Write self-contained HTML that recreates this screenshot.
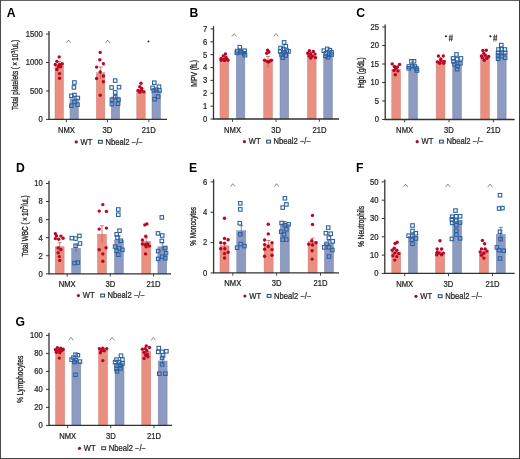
<!DOCTYPE html>
<html><head><meta charset="utf-8"><style>
html,body{margin:0;padding:0;background:#fff;}
body{width:520px;height:459px;overflow:hidden;}
svg{display:block;will-change:transform;}
.wrap{width:520px;height:459px;}
text{font-family:"Liberation Sans",sans-serif;fill:#222;}
.t{font-size:8.3px;stroke:#222;stroke-width:0.22px;}
.yl{font-size:8.5px;stroke:#222;stroke-width:0.3px;}
.L{font-size:12.2px;font-weight:bold;fill:#000;}
.hs{font-size:8.4px;fill:#222;font-weight:bold;font-style:italic;}
</style></head><body>
<div class="wrap"><svg width="520" height="459" viewBox="0 0 520 459">
<rect x="0" y="0" width="520" height="459" fill="#fff"/>
<rect x='55' y='64.5' width='8.4' height='54.9' fill='#e88f80' stroke='#cf7a70' stroke-width='0.5'/>
<rect x='70' y='98.8' width='8.4' height='20.6' fill='#8d9bc2' stroke='#7683ab' stroke-width='0.5'/>
<rect x='96.4' y='72.8' width='8.4' height='46.6' fill='#e88f80' stroke='#cf7a70' stroke-width='0.5'/>
<rect x='111.25' y='97' width='8.4' height='22.4' fill='#8d9bc2' stroke='#7683ab' stroke-width='0.5'/>
<rect x='136.8' y='90.5' width='8.4' height='28.9' fill='#e88f80' stroke='#cf7a70' stroke-width='0.5'/>
<rect x='152' y='90.5' width='8.4' height='28.9' fill='#8d9bc2' stroke='#7683ab' stroke-width='0.5'/>
<path d='M59.2 67.5V61.5M57.2 61.5H61.2' stroke='#c0504a' stroke-width='0.7' fill='none'/>
<path d='M74.2 101.3V96.3M72.2 96.3H76.2' stroke='#3b5a8c' stroke-width='0.7' fill='none'/>
<path d='M100.6 78.6V67M98.6 67H102.6' stroke='#c0504a' stroke-width='0.7' fill='none'/>
<path d='M115.45 99.5V94.5M113.45 94.5H117.45' stroke='#3b5a8c' stroke-width='0.7' fill='none'/>
<path d='M141 91.7V89.3M139 89.3H143' stroke='#c0504a' stroke-width='0.7' fill='none'/>
<path d='M156.2 92V89M154.2 89H158.2' stroke='#3b5a8c' stroke-width='0.7' fill='none'/>
<circle cx='59.2' cy='56.9' r='1.7' fill='#bb0523'/>
<circle cx='56.9' cy='61.4' r='1.7' fill='#bb0523'/>
<circle cx='55.3' cy='64.5' r='1.7' fill='#bb0523'/>
<circle cx='62.2' cy='63.7' r='1.7' fill='#bb0523'/>
<circle cx='59.5' cy='64.5' r='1.7' fill='#bb0523'/>
<circle cx='58.4' cy='66.8' r='1.7' fill='#bb0523'/>
<circle cx='60.7' cy='66.8' r='1.7' fill='#bb0523'/>
<circle cx='56.9' cy='69.5' r='1.7' fill='#bb0523'/>
<circle cx='59.5' cy='73.6' r='1.7' fill='#bb0523'/>
<circle cx='59.5' cy='78.2' r='1.7' fill='#bb0523'/>
<rect x='72.65' y='80.75' width='3.5' height='3.5' fill='none' stroke='#2c62a0' stroke-width='1.1'/>
<rect x='72.15' y='85.65' width='3.5' height='3.5' fill='none' stroke='#2c62a0' stroke-width='1.1'/>
<rect x='69.65' y='94.05' width='3.5' height='3.5' fill='none' stroke='#2c62a0' stroke-width='1.1'/>
<rect x='72.65' y='93.25' width='3.5' height='3.5' fill='none' stroke='#2c62a0' stroke-width='1.1'/>
<rect x='76.05' y='96.25' width='3.5' height='3.5' fill='none' stroke='#2c62a0' stroke-width='1.1'/>
<rect x='72.65' y='100.15' width='3.5' height='3.5' fill='none' stroke='#2c62a0' stroke-width='1.1'/>
<rect x='69.65' y='103.95' width='3.5' height='3.5' fill='none' stroke='#2c62a0' stroke-width='1.1'/>
<rect x='75.75' y='102.85' width='3.5' height='3.5' fill='none' stroke='#2c62a0' stroke-width='1.1'/>
<circle cx='100.2' cy='52.4' r='1.7' fill='#bb0523'/>
<circle cx='99.8' cy='59.7' r='1.7' fill='#bb0523'/>
<circle cx='103.4' cy='63.8' r='1.7' fill='#bb0523'/>
<circle cx='96.6' cy='67.1' r='1.7' fill='#bb0523'/>
<circle cx='100.2' cy='72' r='1.7' fill='#bb0523'/>
<circle cx='103.4' cy='76' r='1.7' fill='#bb0523'/>
<circle cx='96.6' cy='78.5' r='1.7' fill='#bb0523'/>
<circle cx='103.4' cy='81.8' r='1.7' fill='#bb0523'/>
<circle cx='100.2' cy='95.3' r='1.7' fill='#bb0523'/>
<rect x='113.45' y='78.85' width='3.5' height='3.5' fill='none' stroke='#2c62a0' stroke-width='1.1'/>
<rect x='109.85' y='85.75' width='3.5' height='3.5' fill='none' stroke='#2c62a0' stroke-width='1.1'/>
<rect x='117.25' y='85.45' width='3.5' height='3.5' fill='none' stroke='#2c62a0' stroke-width='1.1'/>
<rect x='113.45' y='90.65' width='3.5' height='3.5' fill='none' stroke='#2c62a0' stroke-width='1.1'/>
<rect x='110.15' y='97.95' width='3.5' height='3.5' fill='none' stroke='#2c62a0' stroke-width='1.1'/>
<rect x='116.75' y='97.95' width='3.5' height='3.5' fill='none' stroke='#2c62a0' stroke-width='1.1'/>
<rect x='110.15' y='102.35' width='3.5' height='3.5' fill='none' stroke='#2c62a0' stroke-width='1.1'/>
<rect x='116.35' y='102.05' width='3.5' height='3.5' fill='none' stroke='#2c62a0' stroke-width='1.1'/>
<rect x='113.45' y='95.25' width='3.5' height='3.5' fill='none' stroke='#2c62a0' stroke-width='1.1'/>
<circle cx='141' cy='83.2' r='1.7' fill='#bb0523'/>
<circle cx='139.8' cy='86.7' r='1.7' fill='#bb0523'/>
<circle cx='138.1' cy='90.5' r='1.7' fill='#bb0523'/>
<circle cx='141.6' cy='90.5' r='1.7' fill='#bb0523'/>
<circle cx='143.8' cy='91.9' r='1.7' fill='#bb0523'/>
<circle cx='139.8' cy='92.3' r='1.7' fill='#bb0523'/>
<circle cx='141.8' cy='88.5' r='1.7' fill='#bb0523'/>
<rect x='152.55' y='80.95' width='3.5' height='3.5' fill='none' stroke='#2c62a0' stroke-width='1.1'/>
<rect x='157.25' y='84.95' width='3.5' height='3.5' fill='none' stroke='#2c62a0' stroke-width='1.1'/>
<rect x='150.85' y='86.15' width='3.5' height='3.5' fill='none' stroke='#2c62a0' stroke-width='1.1'/>
<rect x='154.65' y='87.95' width='3.5' height='3.5' fill='none' stroke='#2c62a0' stroke-width='1.1'/>
<rect x='157.75' y='88.75' width='3.5' height='3.5' fill='none' stroke='#2c62a0' stroke-width='1.1'/>
<rect x='152.05' y='88.75' width='3.5' height='3.5' fill='none' stroke='#2c62a0' stroke-width='1.1'/>
<rect x='156.35' y='94.85' width='3.5' height='3.5' fill='none' stroke='#2c62a0' stroke-width='1.1'/>
<rect x='152.85' y='97.45' width='3.5' height='3.5' fill='none' stroke='#2c62a0' stroke-width='1.1'/>
<path d='M49 31V119.4H167' stroke='#333' stroke-width='1.3' fill='none'/>
<path d='M46 119.4H49' stroke='#333' stroke-width='1'/>
<text transform='translate(42.7 122.3) scale(0.92 1)' text-anchor='end' class='t'>0</text>
<path d='M46 90.95H49' stroke='#333' stroke-width='1'/>
<text transform='translate(42.7 93.85) scale(0.92 1)' text-anchor='end' class='t'>500</text>
<path d='M46 62.5H49' stroke='#333' stroke-width='1'/>
<text transform='translate(42.7 65.4) scale(0.92 1)' text-anchor='end' class='t'>1000</text>
<path d='M46 34.05H49' stroke='#333' stroke-width='1'/>
<text transform='translate(42.7 36.95) scale(0.92 1)' text-anchor='end' class='t'>1500</text>
<path d='M66.4 119.4V122.2' stroke='#333' stroke-width='0.9'/>
<text transform='translate(66.4 132.7) scale(0.92 1)' text-anchor='middle' class='t'>NMX</text>
<path d='M107.5 119.4V122.2' stroke='#333' stroke-width='0.9'/>
<text transform='translate(107.5 132.7) scale(0.92 1)' text-anchor='middle' class='t'>3D</text>
<path d='M148.8 119.4V122.2' stroke='#333' stroke-width='0.9'/>
<text transform='translate(148.8 132.7) scale(0.92 1)' text-anchor='middle' class='t'>21D</text>
<text transform='translate(18.4 75) rotate(-90) scale(0.7544 1)' text-anchor='middle' class='yl'>Total platelets ( × 10<tspan dy='-3.3' font-size='6.2'>3</tspan><tspan dy='3.3'>/uL)</tspan></text>
<path d='M66.2 43.1L68.5 40.1L70.8 43.1' stroke='#444' stroke-width='0.6' fill='none'/>
<path d='M105.3 43.1L107.6 40.1L109.9 43.1' stroke='#444' stroke-width='0.6' fill='none'/>
<circle cx='148.5' cy='41.4' r='0.9' fill='#1a1a1a'/>
<text x='6.8' y='16.5' class='L'>A</text>
<circle cx='76.2' cy='141.9' r='1.6' fill='#8e1530'/>
<text transform='translate(80.5 144.6) scale(0.92 1)' class='t'>WT</text>
<rect x='98.5' y='140.4' width='3.8' height='2.8' fill='none' stroke='#36496a' stroke-width='1.1'/>
<text transform='translate(105.4 144.6) scale(0.92 1)' class='t'>Nbeal2 −/−</text>
<rect x='220' y='61' width='8.6' height='58' fill='#e88f80' stroke='#cf7a70' stroke-width='0.5'/>
<rect x='236.25' y='52' width='8.6' height='67' fill='#8d9bc2' stroke='#7683ab' stroke-width='0.5'/>
<rect x='263.75' y='62' width='8.6' height='57' fill='#e88f80' stroke='#cf7a70' stroke-width='0.5'/>
<rect x='280' y='52.5' width='8.6' height='66.5' fill='#8d9bc2' stroke='#7683ab' stroke-width='0.5'/>
<rect x='307.5' y='56' width='8.6' height='63' fill='#e88f80' stroke='#cf7a70' stroke-width='0.5'/>
<rect x='323.75' y='55' width='8.6' height='64' fill='#8d9bc2' stroke='#7683ab' stroke-width='0.5'/>
<path d='M224.3 62V60M222.3 60H226.3' stroke='#c0504a' stroke-width='0.7' fill='none'/>
<path d='M240.55 53V51M238.55 51H242.55' stroke='#3b5a8c' stroke-width='0.7' fill='none'/>
<path d='M268.05 67.5V56.5M266.05 56.5H270.05' stroke='#c0504a' stroke-width='0.7' fill='none'/>
<path d='M284.3 53.7V51.3M282.3 51.3H286.3' stroke='#3b5a8c' stroke-width='0.7' fill='none'/>
<path d='M311.8 57V55M309.8 55H313.8' stroke='#c0504a' stroke-width='0.7' fill='none'/>
<path d='M328.05 56V54M326.05 54H330.05' stroke='#3b5a8c' stroke-width='0.7' fill='none'/>
<circle cx='225.4' cy='54' r='1.7' fill='#bb0523'/>
<circle cx='223.3' cy='55.9' r='1.7' fill='#bb0523'/>
<circle cx='221.1' cy='58.5' r='1.7' fill='#bb0523'/>
<circle cx='223.7' cy='59.4' r='1.7' fill='#bb0523'/>
<circle cx='227.2' cy='59.4' r='1.7' fill='#bb0523'/>
<circle cx='221.1' cy='60.2' r='1.7' fill='#bb0523'/>
<circle cx='224.6' cy='60.4' r='1.7' fill='#bb0523'/>
<circle cx='228' cy='60.2' r='1.7' fill='#bb0523'/>
<circle cx='226' cy='57.5' r='1.7' fill='#bb0523'/>
<rect x='238.05' y='45.45' width='3.5' height='3.5' fill='none' stroke='#2c62a0' stroke-width='1.1'/>
<rect x='235.45' y='49.35' width='3.5' height='3.5' fill='none' stroke='#2c62a0' stroke-width='1.1'/>
<rect x='238.45' y='49.35' width='3.5' height='3.5' fill='none' stroke='#2c62a0' stroke-width='1.1'/>
<rect x='242.85' y='48.95' width='3.5' height='3.5' fill='none' stroke='#2c62a0' stroke-width='1.1'/>
<rect x='235.05' y='51.05' width='3.5' height='3.5' fill='none' stroke='#2c62a0' stroke-width='1.1'/>
<rect x='239.35' y='50.65' width='3.5' height='3.5' fill='none' stroke='#2c62a0' stroke-width='1.1'/>
<rect x='242.45' y='51.55' width='3.5' height='3.5' fill='none' stroke='#2c62a0' stroke-width='1.1'/>
<rect x='243.25' y='53.45' width='3.5' height='3.5' fill='none' stroke='#2c62a0' stroke-width='1.1'/>
<circle cx='267.6' cy='50.2' r='1.7' fill='#bb0523'/>
<circle cx='266.7' cy='53.3' r='1.7' fill='#bb0523'/>
<circle cx='268.9' cy='52' r='1.7' fill='#bb0523'/>
<circle cx='264.5' cy='60.2' r='1.7' fill='#bb0523'/>
<circle cx='266.7' cy='61.1' r='1.7' fill='#bb0523'/>
<circle cx='270.2' cy='60.7' r='1.7' fill='#bb0523'/>
<circle cx='271.5' cy='60.2' r='1.7' fill='#bb0523'/>
<circle cx='268.4' cy='62' r='1.7' fill='#bb0523'/>
<rect x='282.35' y='40.65' width='3.5' height='3.5' fill='none' stroke='#2c62a0' stroke-width='1.1'/>
<rect x='284.05' y='44.55' width='3.5' height='3.5' fill='none' stroke='#2c62a0' stroke-width='1.1'/>
<rect x='278.85' y='46.25' width='3.5' height='3.5' fill='none' stroke='#2c62a0' stroke-width='1.1'/>
<rect x='281.45' y='47.65' width='3.5' height='3.5' fill='none' stroke='#2c62a0' stroke-width='1.1'/>
<rect x='284.95' y='48.95' width='3.5' height='3.5' fill='none' stroke='#2c62a0' stroke-width='1.1'/>
<rect x='278.45' y='49.75' width='3.5' height='3.5' fill='none' stroke='#2c62a0' stroke-width='1.1'/>
<rect x='286.75' y='49.75' width='3.5' height='3.5' fill='none' stroke='#2c62a0' stroke-width='1.1'/>
<rect x='282.35' y='50.65' width='3.5' height='3.5' fill='none' stroke='#2c62a0' stroke-width='1.1'/>
<rect x='279.75' y='52.85' width='3.5' height='3.5' fill='none' stroke='#2c62a0' stroke-width='1.1'/>
<rect x='284.05' y='53.75' width='3.5' height='3.5' fill='none' stroke='#2c62a0' stroke-width='1.1'/>
<rect x='281.05' y='55.85' width='3.5' height='3.5' fill='none' stroke='#2c62a0' stroke-width='1.1'/>
<circle cx='309.4' cy='50.7' r='1.7' fill='#bb0523'/>
<circle cx='313.3' cy='51.5' r='1.7' fill='#bb0523'/>
<circle cx='307.7' cy='53.3' r='1.7' fill='#bb0523'/>
<circle cx='310.7' cy='53.7' r='1.7' fill='#bb0523'/>
<circle cx='315' cy='54.1' r='1.7' fill='#bb0523'/>
<circle cx='309' cy='55.9' r='1.7' fill='#bb0523'/>
<circle cx='312.4' cy='56.3' r='1.7' fill='#bb0523'/>
<circle cx='315.5' cy='57.6' r='1.7' fill='#bb0523'/>
<circle cx='310.7' cy='58.1' r='1.7' fill='#bb0523'/>
<rect x='325.45' y='47.15' width='3.5' height='3.5' fill='none' stroke='#2c62a0' stroke-width='1.1'/>
<rect x='322.05' y='48.95' width='3.5' height='3.5' fill='none' stroke='#2c62a0' stroke-width='1.1'/>
<rect x='328.15' y='48.45' width='3.5' height='3.5' fill='none' stroke='#2c62a0' stroke-width='1.1'/>
<rect x='329.85' y='50.65' width='3.5' height='3.5' fill='none' stroke='#2c62a0' stroke-width='1.1'/>
<rect x='324.15' y='51.55' width='3.5' height='3.5' fill='none' stroke='#2c62a0' stroke-width='1.1'/>
<rect x='327.25' y='52.85' width='3.5' height='3.5' fill='none' stroke='#2c62a0' stroke-width='1.1'/>
<rect x='329.85' y='52.85' width='3.5' height='3.5' fill='none' stroke='#2c62a0' stroke-width='1.1'/>
<rect x='323.75' y='54.15' width='3.5' height='3.5' fill='none' stroke='#2c62a0' stroke-width='1.1'/>
<rect x='326.35' y='55.45' width='3.5' height='3.5' fill='none' stroke='#2c62a0' stroke-width='1.1'/>
<path d='M213.5 26.2V119H339' stroke='#333' stroke-width='1.3' fill='none'/>
<path d='M210.5 119H213.5' stroke='#333' stroke-width='1'/>
<text transform='translate(207.2 121.9) scale(0.92 1)' text-anchor='end' class='t'>0</text>
<path d='M210.5 106.13H213.5' stroke='#333' stroke-width='1'/>
<text transform='translate(207.2 109.03) scale(0.92 1)' text-anchor='end' class='t'>1</text>
<path d='M210.5 93.26H213.5' stroke='#333' stroke-width='1'/>
<text transform='translate(207.2 96.16) scale(0.92 1)' text-anchor='end' class='t'>2</text>
<path d='M210.5 80.39H213.5' stroke='#333' stroke-width='1'/>
<text transform='translate(207.2 83.29) scale(0.92 1)' text-anchor='end' class='t'>3</text>
<path d='M210.5 67.52H213.5' stroke='#333' stroke-width='1'/>
<text transform='translate(207.2 70.42) scale(0.92 1)' text-anchor='end' class='t'>4</text>
<path d='M210.5 54.65H213.5' stroke='#333' stroke-width='1'/>
<text transform='translate(207.2 57.55) scale(0.92 1)' text-anchor='end' class='t'>5</text>
<path d='M210.5 41.78H213.5' stroke='#333' stroke-width='1'/>
<text transform='translate(207.2 44.68) scale(0.92 1)' text-anchor='end' class='t'>6</text>
<path d='M210.5 28.91H213.5' stroke='#333' stroke-width='1'/>
<text transform='translate(207.2 31.81) scale(0.92 1)' text-anchor='end' class='t'>7</text>
<path d='M232.5 119V121.8' stroke='#333' stroke-width='0.9'/>
<text transform='translate(232.5 132.7) scale(0.92 1)' text-anchor='middle' class='t'>NMX</text>
<path d='M276.1 119V121.8' stroke='#333' stroke-width='0.9'/>
<text transform='translate(276.1 132.7) scale(0.92 1)' text-anchor='middle' class='t'>3D</text>
<path d='M319.4 119V121.8' stroke='#333' stroke-width='0.9'/>
<text transform='translate(319.4 132.7) scale(0.92 1)' text-anchor='middle' class='t'>21D</text>
<text transform='translate(196.6 73.4) rotate(-90) scale(0.7933 1)' text-anchor='middle' class='yl'>MPV (fL)</text>
<path d='M231.9 36.6L234.2 33.6L236.5 36.6' stroke='#444' stroke-width='0.6' fill='none'/>
<path d='M273.7 36.6L276 33.6L278.3 36.6' stroke='#444' stroke-width='0.6' fill='none'/>
<text x='189.5' y='16.5' class='L'>B</text>
<circle cx='244.4' cy='141.7' r='1.6' fill='#8e1530'/>
<text transform='translate(248.7 144.4) scale(0.92 1)' class='t'>WT</text>
<rect x='266.7' y='140.2' width='3.8' height='2.8' fill='none' stroke='#36496a' stroke-width='1.1'/>
<text transform='translate(273.6 144.4) scale(0.92 1)' class='t'>Nbeal2 −/−</text>
<rect x='391.8' y='69.5' width='8.7' height='50' fill='#e88f80' stroke='#cf7a70' stroke-width='0.5'/>
<rect x='408.8' y='66' width='8.7' height='53.5' fill='#8d9bc2' stroke='#7683ab' stroke-width='0.5'/>
<rect x='436.2' y='61' width='8.7' height='58.5' fill='#e88f80' stroke='#cf7a70' stroke-width='0.5'/>
<rect x='452.7' y='62' width='8.7' height='57.5' fill='#8d9bc2' stroke='#7683ab' stroke-width='0.5'/>
<rect x='480.7' y='55.5' width='8.7' height='64' fill='#e88f80' stroke='#cf7a70' stroke-width='0.5'/>
<rect x='497.4' y='53' width='8.7' height='66.5' fill='#8d9bc2' stroke='#7683ab' stroke-width='0.5'/>
<path d='M396.15 70.7V68.3M394.15 68.3H398.15' stroke='#c0504a' stroke-width='0.7' fill='none'/>
<path d='M413.15 67V65M411.15 65H415.15' stroke='#3b5a8c' stroke-width='0.7' fill='none'/>
<path d='M440.55 62V60M438.55 60H442.55' stroke='#c0504a' stroke-width='0.7' fill='none'/>
<path d='M457.05 63.2V60.8M455.05 60.8H459.05' stroke='#3b5a8c' stroke-width='0.7' fill='none'/>
<path d='M485.05 56.7V54.3M483.05 54.3H487.05' stroke='#c0504a' stroke-width='0.7' fill='none'/>
<path d='M501.75 54.2V51.8M499.75 51.8H503.75' stroke='#3b5a8c' stroke-width='0.7' fill='none'/>
<circle cx='392.2' cy='63.9' r='1.7' fill='#bb0523'/>
<circle cx='399.6' cy='64.4' r='1.7' fill='#bb0523'/>
<circle cx='394.4' cy='66.5' r='1.7' fill='#bb0523'/>
<circle cx='397.4' cy='67' r='1.7' fill='#bb0523'/>
<circle cx='395.7' cy='68.3' r='1.7' fill='#bb0523'/>
<circle cx='394' cy='70.5' r='1.7' fill='#bb0523'/>
<circle cx='397.9' cy='70.9' r='1.7' fill='#bb0523'/>
<circle cx='395.3' cy='74.8' r='1.7' fill='#bb0523'/>
<rect x='409.65' y='59.55' width='3.5' height='3.5' fill='none' stroke='#2c62a0' stroke-width='1.1'/>
<rect x='412.25' y='59.55' width='3.5' height='3.5' fill='none' stroke='#2c62a0' stroke-width='1.1'/>
<rect x='407.05' y='64.75' width='3.5' height='3.5' fill='none' stroke='#2c62a0' stroke-width='1.1'/>
<rect x='410.45' y='64.35' width='3.5' height='3.5' fill='none' stroke='#2c62a0' stroke-width='1.1'/>
<rect x='413.05' y='64.75' width='3.5' height='3.5' fill='none' stroke='#2c62a0' stroke-width='1.1'/>
<rect x='407.05' y='66.55' width='3.5' height='3.5' fill='none' stroke='#2c62a0' stroke-width='1.1'/>
<rect x='414.85' y='66.95' width='3.5' height='3.5' fill='none' stroke='#2c62a0' stroke-width='1.1'/>
<rect x='415.25' y='68.75' width='3.5' height='3.5' fill='none' stroke='#2c62a0' stroke-width='1.1'/>
<circle cx='438.4' cy='56' r='1.7' fill='#bb0523'/>
<circle cx='443.3' cy='56' r='1.7' fill='#bb0523'/>
<circle cx='440.8' cy='58.9' r='1.7' fill='#bb0523'/>
<circle cx='437.4' cy='61.9' r='1.7' fill='#bb0523'/>
<circle cx='444.2' cy='61.4' r='1.7' fill='#bb0523'/>
<circle cx='439.8' cy='63.3' r='1.7' fill='#bb0523'/>
<circle cx='443.7' cy='63.3' r='1.7' fill='#bb0523'/>
<circle cx='441' cy='60.5' r='1.7' fill='#bb0523'/>
<rect x='454.75' y='52.75' width='3.5' height='3.5' fill='none' stroke='#2c62a0' stroke-width='1.1'/>
<rect x='451.35' y='56.65' width='3.5' height='3.5' fill='none' stroke='#2c62a0' stroke-width='1.1'/>
<rect x='459.15' y='56.65' width='3.5' height='3.5' fill='none' stroke='#2c62a0' stroke-width='1.1'/>
<rect x='455.25' y='57.65' width='3.5' height='3.5' fill='none' stroke='#2c62a0' stroke-width='1.1'/>
<rect x='451.75' y='59.65' width='3.5' height='3.5' fill='none' stroke='#2c62a0' stroke-width='1.1'/>
<rect x='458.65' y='61.55' width='3.5' height='3.5' fill='none' stroke='#2c62a0' stroke-width='1.1'/>
<rect x='452.75' y='62.55' width='3.5' height='3.5' fill='none' stroke='#2c62a0' stroke-width='1.1'/>
<rect x='455.75' y='64.55' width='3.5' height='3.5' fill='none' stroke='#2c62a0' stroke-width='1.1'/>
<rect x='455.25' y='67.45' width='3.5' height='3.5' fill='none' stroke='#2c62a0' stroke-width='1.1'/>
<circle cx='482.9' cy='50.5' r='1.7' fill='#bb0523'/>
<circle cx='486.3' cy='50.3' r='1.7' fill='#bb0523'/>
<circle cx='483.8' cy='53.4' r='1.7' fill='#bb0523'/>
<circle cx='481.4' cy='55.9' r='1.7' fill='#bb0523'/>
<circle cx='485.3' cy='55.4' r='1.7' fill='#bb0523'/>
<circle cx='488.7' cy='56.4' r='1.7' fill='#bb0523'/>
<circle cx='482.4' cy='57.8' r='1.7' fill='#bb0523'/>
<circle cx='486.8' cy='58.3' r='1.7' fill='#bb0523'/>
<circle cx='484.3' cy='60.3' r='1.7' fill='#bb0523'/>
<rect x='499.55' y='43.35' width='3.5' height='3.5' fill='none' stroke='#2c62a0' stroke-width='1.1'/>
<rect x='496.75' y='47.75' width='3.5' height='3.5' fill='none' stroke='#2c62a0' stroke-width='1.1'/>
<rect x='499.75' y='47.55' width='3.5' height='3.5' fill='none' stroke='#2c62a0' stroke-width='1.1'/>
<rect x='503.15' y='47.75' width='3.5' height='3.5' fill='none' stroke='#2c62a0' stroke-width='1.1'/>
<rect x='496.35' y='51.15' width='3.5' height='3.5' fill='none' stroke='#2c62a0' stroke-width='1.1'/>
<rect x='499.95' y='51.15' width='3.5' height='3.5' fill='none' stroke='#2c62a0' stroke-width='1.1'/>
<rect x='503.45' y='51.15' width='3.5' height='3.5' fill='none' stroke='#2c62a0' stroke-width='1.1'/>
<rect x='496.35' y='54.15' width='3.5' height='3.5' fill='none' stroke='#2c62a0' stroke-width='1.1'/>
<rect x='499.95' y='54.65' width='3.5' height='3.5' fill='none' stroke='#2c62a0' stroke-width='1.1'/>
<rect x='503.45' y='56.05' width='3.5' height='3.5' fill='none' stroke='#2c62a0' stroke-width='1.1'/>
<rect x='496.35' y='57.05' width='3.5' height='3.5' fill='none' stroke='#2c62a0' stroke-width='1.1'/>
<path d='M385.2 24.6V119.5H514.6' stroke='#333' stroke-width='1.3' fill='none'/>
<path d='M382.2 119.5H385.2' stroke='#333' stroke-width='1'/>
<text transform='translate(378.9 122.4) scale(0.92 1)' text-anchor='end' class='t'>0</text>
<path d='M382.2 101H385.2' stroke='#333' stroke-width='1'/>
<text transform='translate(378.9 103.9) scale(0.92 1)' text-anchor='end' class='t'>5</text>
<path d='M382.2 82.5H385.2' stroke='#333' stroke-width='1'/>
<text transform='translate(378.9 85.4) scale(0.92 1)' text-anchor='end' class='t'>10</text>
<path d='M382.2 64H385.2' stroke='#333' stroke-width='1'/>
<text transform='translate(378.9 66.9) scale(0.92 1)' text-anchor='end' class='t'>15</text>
<path d='M382.2 45.5H385.2' stroke='#333' stroke-width='1'/>
<text transform='translate(378.9 48.4) scale(0.92 1)' text-anchor='end' class='t'>20</text>
<path d='M382.2 27H385.2' stroke='#333' stroke-width='1'/>
<text transform='translate(378.9 29.9) scale(0.92 1)' text-anchor='end' class='t'>25</text>
<path d='M404.6 119.5V122.3' stroke='#333' stroke-width='0.9'/>
<text transform='translate(404.6 132.7) scale(0.92 1)' text-anchor='middle' class='t'>NMX</text>
<path d='M449 119.5V122.3' stroke='#333' stroke-width='0.9'/>
<text transform='translate(449 132.7) scale(0.92 1)' text-anchor='middle' class='t'>3D</text>
<path d='M493.5 119.5V122.3' stroke='#333' stroke-width='0.9'/>
<text transform='translate(493.5 132.7) scale(0.92 1)' text-anchor='middle' class='t'>21D</text>
<text transform='translate(363.5 72.6) rotate(-90) scale(0.7618 1)' text-anchor='middle' class='yl'>Hgb (g/dL)</text>
<circle cx='446' cy='36.2' r='1.05' fill='#1a1a1a'/>
<path d='M450.1 34.6L449.5 41.4M452.1 34.6L451.5 41.4M448.8 36.8H452.9M448.7 39.2H452.8' stroke='#333' stroke-width='0.85' fill='none'/>
<circle cx='490.4' cy='36.2' r='1.05' fill='#1a1a1a'/>
<path d='M494.5 34.6L493.9 41.4M496.5 34.6L495.9 41.4M493.2 36.8H497.3M493.1 39.2H497.2' stroke='#333' stroke-width='0.85' fill='none'/>
<text x='356.3' y='16.5' class='L'>C</text>
<circle cx='417.2' cy='141.7' r='1.6' fill='#8e1530'/>
<text transform='translate(421.5 144.4) scale(0.92 1)' class='t'>WT</text>
<rect x='439.5' y='140.2' width='3.8' height='2.8' fill='none' stroke='#36496a' stroke-width='1.1'/>
<text transform='translate(446.4 144.4) scale(0.92 1)' class='t'>Nbeal2 −/−</text>
<rect x='55.3' y='246.8' width='8.8' height='27' fill='#e88f80' stroke='#cf7a70' stroke-width='0.5'/>
<rect x='71.7' y='248.4' width='8.8' height='25.4' fill='#8d9bc2' stroke='#7683ab' stroke-width='0.5'/>
<rect x='97.6' y='234.3' width='8.8' height='39.5' fill='#e88f80' stroke='#cf7a70' stroke-width='0.5'/>
<rect x='114.5' y='240' width='8.8' height='33.8' fill='#8d9bc2' stroke='#7683ab' stroke-width='0.5'/>
<rect x='141.8' y='241.4' width='8.8' height='32.4' fill='#e88f80' stroke='#cf7a70' stroke-width='0.5'/>
<rect x='157.9' y='246.8' width='8.8' height='27' fill='#8d9bc2' stroke='#7683ab' stroke-width='0.5'/>
<path d='M59.7 251V242.6M57.7 242.6H61.7' stroke='#c0504a' stroke-width='0.7' fill='none'/>
<path d='M76.1 251.9V244.9M74.1 244.9H78.1' stroke='#3b5a8c' stroke-width='0.7' fill='none'/>
<path d='M102 242.8V225.8M100 225.8H104' stroke='#c0504a' stroke-width='0.7' fill='none'/>
<path d='M118.9 244V236M116.9 236H120.9' stroke='#3b5a8c' stroke-width='0.7' fill='none'/>
<path d='M146.2 244.9V237.9M144.2 237.9H148.2' stroke='#c0504a' stroke-width='0.7' fill='none'/>
<path d='M162.3 250.8V242.8M160.3 242.8H164.3' stroke='#3b5a8c' stroke-width='0.7' fill='none'/>
<circle cx='55.4' cy='233.7' r='1.7' fill='#bb0523'/>
<circle cx='56.5' cy='235.9' r='1.7' fill='#bb0523'/>
<circle cx='60.9' cy='236.1' r='1.7' fill='#bb0523'/>
<circle cx='55.4' cy='238.6' r='1.7' fill='#bb0523'/>
<circle cx='58.7' cy='239.2' r='1.7' fill='#bb0523'/>
<circle cx='63.1' cy='238.3' r='1.7' fill='#bb0523'/>
<circle cx='58.2' cy='247.9' r='1.7' fill='#bb0523'/>
<circle cx='60.9' cy='249.5' r='1.7' fill='#bb0523'/>
<circle cx='58.2' cy='252.8' r='1.7' fill='#bb0523'/>
<circle cx='59.3' cy='256.6' r='1.7' fill='#bb0523'/>
<circle cx='59.8' cy='260.4' r='1.7' fill='#bb0523'/>
<rect x='70.05' y='236.35' width='3.5' height='3.5' fill='none' stroke='#2c62a0' stroke-width='1.1'/>
<rect x='73.85' y='236.85' width='3.5' height='3.5' fill='none' stroke='#2c62a0' stroke-width='1.1'/>
<rect x='77.65' y='234.15' width='3.5' height='3.5' fill='none' stroke='#2c62a0' stroke-width='1.1'/>
<rect x='78.25' y='241.75' width='3.5' height='3.5' fill='none' stroke='#2c62a0' stroke-width='1.1'/>
<rect x='73.85' y='243.95' width='3.5' height='3.5' fill='none' stroke='#2c62a0' stroke-width='1.1'/>
<rect x='72.75' y='261.35' width='3.5' height='3.5' fill='none' stroke='#2c62a0' stroke-width='1.1'/>
<rect x='76.05' y='260.85' width='3.5' height='3.5' fill='none' stroke='#2c62a0' stroke-width='1.1'/>
<circle cx='102.8' cy='204.6' r='1.7' fill='#bb0523'/>
<circle cx='99.2' cy='211.1' r='1.7' fill='#bb0523'/>
<circle cx='106.4' cy='211.4' r='1.7' fill='#bb0523'/>
<circle cx='99.2' cy='229.1' r='1.7' fill='#bb0523'/>
<circle cx='106.4' cy='228.1' r='1.7' fill='#bb0523'/>
<circle cx='99.2' cy='249.8' r='1.7' fill='#bb0523'/>
<circle cx='106.1' cy='247.7' r='1.7' fill='#bb0523'/>
<circle cx='102.8' cy='253.9' r='1.7' fill='#bb0523'/>
<circle cx='102.8' cy='261.3' r='1.7' fill='#bb0523'/>
<rect x='116.55' y='207.75' width='3.5' height='3.5' fill='none' stroke='#2c62a0' stroke-width='1.1'/>
<rect x='116.55' y='212.95' width='3.5' height='3.5' fill='none' stroke='#2c62a0' stroke-width='1.1'/>
<rect x='117.75' y='228.95' width='3.5' height='3.5' fill='none' stroke='#2c62a0' stroke-width='1.1'/>
<rect x='114.95' y='232.55' width='3.5' height='3.5' fill='none' stroke='#2c62a0' stroke-width='1.1'/>
<rect x='115.75' y='235.85' width='3.5' height='3.5' fill='none' stroke='#2c62a0' stroke-width='1.1'/>
<rect x='119.05' y='239.05' width='3.5' height='3.5' fill='none' stroke='#2c62a0' stroke-width='1.1'/>
<rect x='113.35' y='244.85' width='3.5' height='3.5' fill='none' stroke='#2c62a0' stroke-width='1.1'/>
<rect x='117.35' y='246.45' width='3.5' height='3.5' fill='none' stroke='#2c62a0' stroke-width='1.1'/>
<rect x='114.95' y='248.95' width='3.5' height='3.5' fill='none' stroke='#2c62a0' stroke-width='1.1'/>
<rect x='120.65' y='248.05' width='3.5' height='3.5' fill='none' stroke='#2c62a0' stroke-width='1.1'/>
<rect x='116.55' y='252.95' width='3.5' height='3.5' fill='none' stroke='#2c62a0' stroke-width='1.1'/>
<circle cx='144.8' cy='224.9' r='1.7' fill='#bb0523'/>
<circle cx='146.9' cy='223.9' r='1.7' fill='#bb0523'/>
<circle cx='145.8' cy='236.2' r='1.7' fill='#bb0523'/>
<circle cx='142.4' cy='240' r='1.7' fill='#bb0523'/>
<circle cx='142.4' cy='244' r='1.7' fill='#bb0523'/>
<circle cx='145.2' cy='244.7' r='1.7' fill='#bb0523'/>
<circle cx='147.6' cy='244' r='1.7' fill='#bb0523'/>
<circle cx='149.5' cy='246.1' r='1.7' fill='#bb0523'/>
<circle cx='146.2' cy='246.8' r='1.7' fill='#bb0523'/>
<circle cx='145.5' cy='253.9' r='1.7' fill='#bb0523'/>
<rect x='160.05' y='215.65' width='3.5' height='3.5' fill='none' stroke='#2c62a0' stroke-width='1.1'/>
<rect x='156.25' y='231.65' width='3.5' height='3.5' fill='none' stroke='#2c62a0' stroke-width='1.1'/>
<rect x='160.45' y='233.75' width='3.5' height='3.5' fill='none' stroke='#2c62a0' stroke-width='1.1'/>
<rect x='160.05' y='239.15' width='3.5' height='3.5' fill='none' stroke='#2c62a0' stroke-width='1.1'/>
<rect x='163.55' y='246.25' width='3.5' height='3.5' fill='none' stroke='#2c62a0' stroke-width='1.1'/>
<rect x='156.45' y='249.35' width='3.5' height='3.5' fill='none' stroke='#2c62a0' stroke-width='1.1'/>
<rect x='164.25' y='251.45' width='3.5' height='3.5' fill='none' stroke='#2c62a0' stroke-width='1.1'/>
<rect x='160.45' y='254.95' width='3.5' height='3.5' fill='none' stroke='#2c62a0' stroke-width='1.1'/>
<rect x='156.45' y='257.15' width='3.5' height='3.5' fill='none' stroke='#2c62a0' stroke-width='1.1'/>
<rect x='163.55' y='256.45' width='3.5' height='3.5' fill='none' stroke='#2c62a0' stroke-width='1.1'/>
<path d='M49 180.8V273.8H171' stroke='#333' stroke-width='1.3' fill='none'/>
<path d='M46 273.8H49' stroke='#333' stroke-width='1'/>
<text transform='translate(42.7 276.7) scale(0.92 1)' text-anchor='end' class='t'>0</text>
<path d='M46 255.74H49' stroke='#333' stroke-width='1'/>
<text transform='translate(42.7 258.64) scale(0.92 1)' text-anchor='end' class='t'>2</text>
<path d='M46 237.68H49' stroke='#333' stroke-width='1'/>
<text transform='translate(42.7 240.58) scale(0.92 1)' text-anchor='end' class='t'>4</text>
<path d='M46 219.62H49' stroke='#333' stroke-width='1'/>
<text transform='translate(42.7 222.52) scale(0.92 1)' text-anchor='end' class='t'>6</text>
<path d='M46 201.56H49' stroke='#333' stroke-width='1'/>
<text transform='translate(42.7 204.46) scale(0.92 1)' text-anchor='end' class='t'>8</text>
<path d='M46 183.5H49' stroke='#333' stroke-width='1'/>
<text transform='translate(42.7 186.4) scale(0.92 1)' text-anchor='end' class='t'>10</text>
<path d='M67.2 273.8V276.6' stroke='#333' stroke-width='0.9'/>
<text transform='translate(67.2 286.7) scale(0.92 1)' text-anchor='middle' class='t'>NMX</text>
<path d='M110.3 273.8V276.6' stroke='#333' stroke-width='0.9'/>
<text transform='translate(110.3 286.7) scale(0.92 1)' text-anchor='middle' class='t'>3D</text>
<path d='M153.6 273.8V276.6' stroke='#333' stroke-width='0.9'/>
<text transform='translate(153.6 286.7) scale(0.92 1)' text-anchor='middle' class='t'>21D</text>
<text transform='translate(27.6 225.9) rotate(-90) scale(0.7522 1)' text-anchor='middle' class='yl'>Total WBC ( × 10<tspan dy='-3.3' font-size='6.2'>3</tspan><tspan dy='3.3'>/uL)</tspan></text>
<text x='16.1' y='172.2' class='L'>D</text>
<circle cx='78.4' cy='295.6' r='1.6' fill='#8e1530'/>
<text transform='translate(82.7 298.3) scale(0.92 1)' class='t'>WT</text>
<rect x='100.7' y='294.1' width='3.8' height='2.8' fill='none' stroke='#36496a' stroke-width='1.1'/>
<text transform='translate(107.6 298.3) scale(0.92 1)' class='t'>Nbeal2 −/−</text>
<rect x='220' y='245.8' width='9' height='27.1' fill='#e88f80' stroke='#cf7a70' stroke-width='0.5'/>
<rect x='236.8' y='230.7' width='9' height='42.2' fill='#8d9bc2' stroke='#7683ab' stroke-width='0.5'/>
<rect x='264.1' y='244.5' width='9' height='28.4' fill='#e88f80' stroke='#cf7a70' stroke-width='0.5'/>
<rect x='280.2' y='224' width='9' height='48.9' fill='#8d9bc2' stroke='#7683ab' stroke-width='0.5'/>
<rect x='308.1' y='241.6' width='9' height='31.3' fill='#e88f80' stroke='#cf7a70' stroke-width='0.5'/>
<rect x='324.5' y='243.1' width='9' height='29.8' fill='#8d9bc2' stroke='#7683ab' stroke-width='0.5'/>
<path d='M224.5 248.3V243.3M222.5 243.3H226.5' stroke='#c0504a' stroke-width='0.7' fill='none'/>
<path d='M241.3 235.7V225.7M239.3 225.7H243.3' stroke='#3b5a8c' stroke-width='0.7' fill='none'/>
<path d='M268.6 248.5V240.5M266.6 240.5H270.6' stroke='#c0504a' stroke-width='0.7' fill='none'/>
<path d='M284.7 226.5V221.5M282.7 221.5H286.7' stroke='#3b5a8c' stroke-width='0.7' fill='none'/>
<path d='M312.6 245.1V238.1M310.6 238.1H314.6' stroke='#c0504a' stroke-width='0.7' fill='none'/>
<path d='M329 245.6V240.6M327 240.6H331' stroke='#3b5a8c' stroke-width='0.7' fill='none'/>
<circle cx='224.5' cy='218.3' r='1.7' fill='#bb0523'/>
<circle cx='224.5' cy='238.4' r='1.7' fill='#bb0523'/>
<circle cx='228.1' cy='239.7' r='1.7' fill='#bb0523'/>
<circle cx='220.7' cy='242.8' r='1.7' fill='#bb0523'/>
<circle cx='224.5' cy='243.3' r='1.7' fill='#bb0523'/>
<circle cx='220.7' cy='248.7' r='1.7' fill='#bb0523'/>
<circle cx='224.8' cy='248.7' r='1.7' fill='#bb0523'/>
<circle cx='228.1' cy='252.3' r='1.7' fill='#bb0523'/>
<circle cx='224.5' cy='253.6' r='1.7' fill='#bb0523'/>
<circle cx='224.5' cy='258' r='1.7' fill='#bb0523'/>
<rect x='238.55' y='201.55' width='3.5' height='3.5' fill='none' stroke='#2c62a0' stroke-width='1.1'/>
<rect x='238.55' y='207.65' width='3.5' height='3.5' fill='none' stroke='#2c62a0' stroke-width='1.1'/>
<rect x='238.05' y='221.45' width='3.5' height='3.5' fill='none' stroke='#2c62a0' stroke-width='1.1'/>
<rect x='238.55' y='232.55' width='3.5' height='3.5' fill='none' stroke='#2c62a0' stroke-width='1.1'/>
<rect x='239.05' y='242.35' width='3.5' height='3.5' fill='none' stroke='#2c62a0' stroke-width='1.1'/>
<rect x='235.35' y='245.95' width='3.5' height='3.5' fill='none' stroke='#2c62a0' stroke-width='1.1'/>
<rect x='242.65' y='244.35' width='3.5' height='3.5' fill='none' stroke='#2c62a0' stroke-width='1.1'/>
<circle cx='268.3' cy='224.3' r='1.7' fill='#bb0523'/>
<circle cx='268.3' cy='233.9' r='1.7' fill='#bb0523'/>
<circle cx='264.6' cy='240' r='1.7' fill='#bb0523'/>
<circle cx='264.6' cy='244.6' r='1.7' fill='#bb0523'/>
<circle cx='272' cy='242.8' r='1.7' fill='#bb0523'/>
<circle cx='268.3' cy='246.5' r='1.7' fill='#bb0523'/>
<circle cx='264.6' cy='249.3' r='1.7' fill='#bb0523'/>
<circle cx='272' cy='249.6' r='1.7' fill='#bb0523'/>
<circle cx='264.6' cy='256.3' r='1.7' fill='#bb0523'/>
<circle cx='272' cy='255.2' r='1.7' fill='#bb0523'/>
<rect x='283.15' y='196.55' width='3.5' height='3.5' fill='none' stroke='#2c62a0' stroke-width='1.1'/>
<rect x='284.65' y='202.65' width='3.5' height='3.5' fill='none' stroke='#2c62a0' stroke-width='1.1'/>
<rect x='280.95' y='205.85' width='3.5' height='3.5' fill='none' stroke='#2c62a0' stroke-width='1.1'/>
<rect x='279.85' y='221.25' width='3.5' height='3.5' fill='none' stroke='#2c62a0' stroke-width='1.1'/>
<rect x='286.85' y='222.55' width='3.5' height='3.5' fill='none' stroke='#2c62a0' stroke-width='1.1'/>
<rect x='283.15' y='223.45' width='3.5' height='3.5' fill='none' stroke='#2c62a0' stroke-width='1.1'/>
<rect x='284.65' y='227.55' width='3.5' height='3.5' fill='none' stroke='#2c62a0' stroke-width='1.1'/>
<rect x='279.45' y='229.95' width='3.5' height='3.5' fill='none' stroke='#2c62a0' stroke-width='1.1'/>
<rect x='282.25' y='232.65' width='3.5' height='3.5' fill='none' stroke='#2c62a0' stroke-width='1.1'/>
<rect x='280.95' y='237.85' width='3.5' height='3.5' fill='none' stroke='#2c62a0' stroke-width='1.1'/>
<rect x='284.65' y='237.85' width='3.5' height='3.5' fill='none' stroke='#2c62a0' stroke-width='1.1'/>
<circle cx='312.5' cy='215.4' r='1.7' fill='#bb0523'/>
<circle cx='312.5' cy='224.5' r='1.7' fill='#bb0523'/>
<circle cx='311.8' cy='240.8' r='1.7' fill='#bb0523'/>
<circle cx='308.8' cy='244.3' r='1.7' fill='#bb0523'/>
<circle cx='312.5' cy='245' r='1.7' fill='#bb0523'/>
<circle cx='316' cy='242.8' r='1.7' fill='#bb0523'/>
<circle cx='312.1' cy='250.7' r='1.7' fill='#bb0523'/>
<circle cx='312.1' cy='259.1' r='1.7' fill='#bb0523'/>
<rect x='326.45' y='225.85' width='3.5' height='3.5' fill='none' stroke='#2c62a0' stroke-width='1.1'/>
<rect x='324.15' y='231.45' width='3.5' height='3.5' fill='none' stroke='#2c62a0' stroke-width='1.1'/>
<rect x='328.95' y='231.95' width='3.5' height='3.5' fill='none' stroke='#2c62a0' stroke-width='1.1'/>
<rect x='327.15' y='236.05' width='3.5' height='3.5' fill='none' stroke='#2c62a0' stroke-width='1.1'/>
<rect x='330.95' y='239.55' width='3.5' height='3.5' fill='none' stroke='#2c62a0' stroke-width='1.1'/>
<rect x='324.85' y='242.15' width='3.5' height='3.5' fill='none' stroke='#2c62a0' stroke-width='1.1'/>
<rect x='322.55' y='245.65' width='3.5' height='3.5' fill='none' stroke='#2c62a0' stroke-width='1.1'/>
<rect x='327.15' y='245.65' width='3.5' height='3.5' fill='none' stroke='#2c62a0' stroke-width='1.1'/>
<rect x='330.55' y='248.25' width='3.5' height='3.5' fill='none' stroke='#2c62a0' stroke-width='1.1'/>
<rect x='327.15' y='254.75' width='3.5' height='3.5' fill='none' stroke='#2c62a0' stroke-width='1.1'/>
<path d='M213.6 179.3V272.9H339' stroke='#333' stroke-width='1.3' fill='none'/>
<path d='M210.6 272.9H213.6' stroke='#333' stroke-width='1'/>
<text transform='translate(207.3 275.8) scale(0.92 1)' text-anchor='end' class='t'>0</text>
<path d='M210.6 242.56H213.6' stroke='#333' stroke-width='1'/>
<text transform='translate(207.3 245.46) scale(0.92 1)' text-anchor='end' class='t'>2</text>
<path d='M210.6 212.22H213.6' stroke='#333' stroke-width='1'/>
<text transform='translate(207.3 215.12) scale(0.92 1)' text-anchor='end' class='t'>4</text>
<path d='M210.6 181.88H213.6' stroke='#333' stroke-width='1'/>
<text transform='translate(207.3 184.78) scale(0.92 1)' text-anchor='end' class='t'>6</text>
<path d='M232.8 272.9V275.7' stroke='#333' stroke-width='0.9'/>
<text transform='translate(232.8 286) scale(0.92 1)' text-anchor='middle' class='t'>NMX</text>
<path d='M276.6 272.9V275.7' stroke='#333' stroke-width='0.9'/>
<text transform='translate(276.6 286) scale(0.92 1)' text-anchor='middle' class='t'>3D</text>
<path d='M320.5 272.9V275.7' stroke='#333' stroke-width='0.9'/>
<text transform='translate(320.5 286) scale(0.92 1)' text-anchor='middle' class='t'>21D</text>
<text transform='translate(196.4 226.3) rotate(-90) scale(0.7603 1)' text-anchor='middle' class='yl'>% Monocytes</text>
<path d='M230.5 186.7L232.8 183.7L235.1 186.7' stroke='#444' stroke-width='0.6' fill='none'/>
<path d='M274.3 186.7L276.6 183.7L278.9 186.7' stroke='#444' stroke-width='0.6' fill='none'/>
<text x='188.9' y='172.2' class='L'>E</text>
<circle cx='244.9' cy='296' r='1.6' fill='#8e1530'/>
<text transform='translate(249.2 298.7) scale(0.92 1)' class='t'>WT</text>
<rect x='267.2' y='294.5' width='3.8' height='2.8' fill='none' stroke='#36496a' stroke-width='1.1'/>
<text transform='translate(274.1 298.7) scale(0.92 1)' class='t'>Nbeal2 −/−</text>
<rect x='391.8' y='252' width='8.9' height='21.4' fill='#e88f80' stroke='#cf7a70' stroke-width='0.5'/>
<rect x='408.4' y='236.5' width='8.9' height='36.9' fill='#8d9bc2' stroke='#7683ab' stroke-width='0.5'/>
<rect x='435.7' y='252.5' width='8.9' height='20.9' fill='#e88f80' stroke='#cf7a70' stroke-width='0.5'/>
<rect x='452.7' y='221.5' width='8.9' height='51.9' fill='#8d9bc2' stroke='#7683ab' stroke-width='0.5'/>
<rect x='479.5' y='251.1' width='8.9' height='22.3' fill='#e88f80' stroke='#cf7a70' stroke-width='0.5'/>
<rect x='496.3' y='234.4' width='8.9' height='39' fill='#8d9bc2' stroke='#7683ab' stroke-width='0.5'/>
<path d='M396.25 253.8V250.2M394.25 250.2H398.25' stroke='#c0504a' stroke-width='0.7' fill='none'/>
<path d='M412.85 238.5V234.5M410.85 234.5H414.85' stroke='#3b5a8c' stroke-width='0.7' fill='none'/>
<path d='M440.15 254V251M438.15 251H442.15' stroke='#c0504a' stroke-width='0.7' fill='none'/>
<path d='M457.15 224V219M455.15 219H459.15' stroke='#3b5a8c' stroke-width='0.7' fill='none'/>
<path d='M483.95 252.9V249.3M481.95 249.3H485.95' stroke='#c0504a' stroke-width='0.7' fill='none'/>
<path d='M500.75 241.4V227.4M498.75 227.4H502.75' stroke='#3b5a8c' stroke-width='0.7' fill='none'/>
<circle cx='397.2' cy='242.2' r='1.7' fill='#bb0523'/>
<circle cx='395.1' cy='243.5' r='1.7' fill='#bb0523'/>
<circle cx='394.2' cy='248.3' r='1.7' fill='#bb0523'/>
<circle cx='392.2' cy='250.3' r='1.7' fill='#bb0523'/>
<circle cx='396.8' cy='250.3' r='1.7' fill='#bb0523'/>
<circle cx='394.8' cy='252.9' r='1.7' fill='#bb0523'/>
<circle cx='398.8' cy='253.6' r='1.7' fill='#bb0523'/>
<circle cx='392.9' cy='255.8' r='1.7' fill='#bb0523'/>
<circle cx='396.8' cy='256.6' r='1.7' fill='#bb0523'/>
<circle cx='394.8' cy='260.1' r='1.7' fill='#bb0523'/>
<rect x='410.75' y='223.75' width='3.5' height='3.5' fill='none' stroke='#2c62a0' stroke-width='1.1'/>
<rect x='410.75' y='229.25' width='3.5' height='3.5' fill='none' stroke='#2c62a0' stroke-width='1.1'/>
<rect x='414.05' y='231.55' width='3.5' height='3.5' fill='none' stroke='#2c62a0' stroke-width='1.1'/>
<rect x='406.85' y='233.95' width='3.5' height='3.5' fill='none' stroke='#2c62a0' stroke-width='1.1'/>
<rect x='410.75' y='233.95' width='3.5' height='3.5' fill='none' stroke='#2c62a0' stroke-width='1.1'/>
<rect x='414.25' y='236.75' width='3.5' height='3.5' fill='none' stroke='#2c62a0' stroke-width='1.1'/>
<rect x='410.05' y='238.05' width='3.5' height='3.5' fill='none' stroke='#2c62a0' stroke-width='1.1'/>
<rect x='410.75' y='242.05' width='3.5' height='3.5' fill='none' stroke='#2c62a0' stroke-width='1.1'/>
<circle cx='440' cy='240.8' r='1.7' fill='#bb0523'/>
<circle cx='437.2' cy='249' r='1.7' fill='#bb0523'/>
<circle cx='441.6' cy='249' r='1.7' fill='#bb0523'/>
<circle cx='437.2' cy='252.3' r='1.7' fill='#bb0523'/>
<circle cx='439.2' cy='253.1' r='1.7' fill='#bb0523'/>
<circle cx='443.3' cy='253.1' r='1.7' fill='#bb0523'/>
<circle cx='436.7' cy='254.7' r='1.7' fill='#bb0523'/>
<circle cx='441.6' cy='254.7' r='1.7' fill='#bb0523'/>
<rect x='453.75' y='208.85' width='3.5' height='3.5' fill='none' stroke='#2c62a0' stroke-width='1.1'/>
<rect x='450.45' y='214.95' width='3.5' height='3.5' fill='none' stroke='#2c62a0' stroke-width='1.1'/>
<rect x='454.55' y='214.55' width='3.5' height='3.5' fill='none' stroke='#2c62a0' stroke-width='1.1'/>
<rect x='458.35' y='214.55' width='3.5' height='3.5' fill='none' stroke='#2c62a0' stroke-width='1.1'/>
<rect x='450.15' y='217.55' width='3.5' height='3.5' fill='none' stroke='#2c62a0' stroke-width='1.1'/>
<rect x='454.55' y='218.65' width='3.5' height='3.5' fill='none' stroke='#2c62a0' stroke-width='1.1'/>
<rect x='450.45' y='221.15' width='3.5' height='3.5' fill='none' stroke='#2c62a0' stroke-width='1.1'/>
<rect x='458.35' y='220.75' width='3.5' height='3.5' fill='none' stroke='#2c62a0' stroke-width='1.1'/>
<rect x='454.55' y='223.55' width='3.5' height='3.5' fill='none' stroke='#2c62a0' stroke-width='1.1'/>
<rect x='454.55' y='228.95' width='3.5' height='3.5' fill='none' stroke='#2c62a0' stroke-width='1.1'/>
<rect x='454.55' y='232.85' width='3.5' height='3.5' fill='none' stroke='#2c62a0' stroke-width='1.1'/>
<rect x='450.15' y='237.15' width='3.5' height='3.5' fill='none' stroke='#2c62a0' stroke-width='1.1'/>
<rect x='458.35' y='236.65' width='3.5' height='3.5' fill='none' stroke='#2c62a0' stroke-width='1.1'/>
<circle cx='482.4' cy='240.4' r='1.7' fill='#bb0523'/>
<circle cx='484.6' cy='243.7' r='1.7' fill='#bb0523'/>
<circle cx='481.5' cy='248.9' r='1.7' fill='#bb0523'/>
<circle cx='485.2' cy='248.9' r='1.7' fill='#bb0523'/>
<circle cx='487' cy='251.1' r='1.7' fill='#bb0523'/>
<circle cx='480.2' cy='252' r='1.7' fill='#bb0523'/>
<circle cx='483.9' cy='253.3' r='1.7' fill='#bb0523'/>
<circle cx='481.5' cy='255.2' r='1.7' fill='#bb0523'/>
<circle cx='483.9' cy='258.1' r='1.7' fill='#bb0523'/>
<rect x='498.25' y='193.45' width='3.5' height='3.5' fill='none' stroke='#2c62a0' stroke-width='1.1'/>
<rect x='497.35' y='206.75' width='3.5' height='3.5' fill='none' stroke='#2c62a0' stroke-width='1.1'/>
<rect x='500.65' y='206.35' width='3.5' height='3.5' fill='none' stroke='#2c62a0' stroke-width='1.1'/>
<rect x='498.25' y='229.95' width='3.5' height='3.5' fill='none' stroke='#2c62a0' stroke-width='1.1'/>
<rect x='498.85' y='237.35' width='3.5' height='3.5' fill='none' stroke='#2c62a0' stroke-width='1.1'/>
<rect x='495.15' y='245.65' width='3.5' height='3.5' fill='none' stroke='#2c62a0' stroke-width='1.1'/>
<rect x='497.35' y='248.45' width='3.5' height='3.5' fill='none' stroke='#2c62a0' stroke-width='1.1'/>
<rect x='501.95' y='248.95' width='3.5' height='3.5' fill='none' stroke='#2c62a0' stroke-width='1.1'/>
<rect x='498.25' y='256.75' width='3.5' height='3.5' fill='none' stroke='#2c62a0' stroke-width='1.1'/>
<path d='M384.8 179.6V273.4H514.6' stroke='#333' stroke-width='1.3' fill='none'/>
<path d='M381.8 273.4H384.8' stroke='#333' stroke-width='1'/>
<text transform='translate(378.5 276.3) scale(0.92 1)' text-anchor='end' class='t'>0</text>
<path d='M381.8 255.1H384.8' stroke='#333' stroke-width='1'/>
<text transform='translate(378.5 258) scale(0.92 1)' text-anchor='end' class='t'>10</text>
<path d='M381.8 236.8H384.8' stroke='#333' stroke-width='1'/>
<text transform='translate(378.5 239.7) scale(0.92 1)' text-anchor='end' class='t'>20</text>
<path d='M381.8 218.5H384.8' stroke='#333' stroke-width='1'/>
<text transform='translate(378.5 221.4) scale(0.92 1)' text-anchor='end' class='t'>30</text>
<path d='M381.8 200.2H384.8' stroke='#333' stroke-width='1'/>
<text transform='translate(378.5 203.1) scale(0.92 1)' text-anchor='end' class='t'>40</text>
<path d='M381.8 181.9H384.8' stroke='#333' stroke-width='1'/>
<text transform='translate(378.5 184.8) scale(0.92 1)' text-anchor='end' class='t'>50</text>
<path d='M404.7 273.4V276.2' stroke='#333' stroke-width='0.9'/>
<text transform='translate(404.7 286.5) scale(0.92 1)' text-anchor='middle' class='t'>NMX</text>
<path d='M448.5 273.4V276.2' stroke='#333' stroke-width='0.9'/>
<text transform='translate(448.5 286.5) scale(0.92 1)' text-anchor='middle' class='t'>3D</text>
<path d='M492.5 273.4V276.2' stroke='#333' stroke-width='0.9'/>
<text transform='translate(492.5 286.5) scale(0.92 1)' text-anchor='middle' class='t'>21D</text>
<text transform='translate(363.8 226.5) rotate(-90) scale(0.7766 1)' text-anchor='middle' class='yl'>% Neutrophils</text>
<path d='M403.3 187.1L405.6 184.1L407.9 187.1' stroke='#444' stroke-width='0.6' fill='none'/>
<path d='M445.6 187.1L447.9 184.1L450.2 187.1' stroke='#444' stroke-width='0.6' fill='none'/>
<path d='M487.8 187.1L490.1 184.1L492.4 187.1' stroke='#444' stroke-width='0.6' fill='none'/>
<text x='356.1' y='172.2' class='L'>F</text>
<circle cx='416' cy='296.3' r='1.6' fill='#8e1530'/>
<text transform='translate(420.3 299) scale(0.92 1)' class='t'>WT</text>
<rect x='438.3' y='294.8' width='3.8' height='2.8' fill='none' stroke='#36496a' stroke-width='1.1'/>
<text transform='translate(445.2 299) scale(0.92 1)' class='t'>Nbeal2 −/−</text>
<rect x='55.7' y='350.4' width='8.9' height='75' fill='#e88f80' stroke='#cf7a70' stroke-width='0.5'/>
<rect x='71.9' y='362' width='8.9' height='63.4' fill='#8d9bc2' stroke='#7683ab' stroke-width='0.5'/>
<rect x='98.6' y='350' width='8.9' height='75.4' fill='#e88f80' stroke='#cf7a70' stroke-width='0.5'/>
<rect x='115.1' y='363.5' width='8.9' height='61.9' fill='#8d9bc2' stroke='#7683ab' stroke-width='0.5'/>
<rect x='141.8' y='351.3' width='8.9' height='74.1' fill='#e88f80' stroke='#cf7a70' stroke-width='0.5'/>
<rect x='158.2' y='361' width='8.9' height='64.4' fill='#8d9bc2' stroke='#7683ab' stroke-width='0.5'/>
<path d='M60.15 351.6V349.2M58.15 349.2H62.15' stroke='#c0504a' stroke-width='0.7' fill='none'/>
<path d='M76.35 364V360M74.35 360H78.35' stroke='#3b5a8c' stroke-width='0.7' fill='none'/>
<path d='M103.05 351.5V348.5M101.05 348.5H105.05' stroke='#c0504a' stroke-width='0.7' fill='none'/>
<path d='M119.55 364.8V362.2M117.55 362.2H121.55' stroke='#3b5a8c' stroke-width='0.7' fill='none'/>
<path d='M146.25 352.8V349.8M144.25 349.8H148.25' stroke='#c0504a' stroke-width='0.7' fill='none'/>
<path d='M162.65 364V358M160.65 358H164.65' stroke='#3b5a8c' stroke-width='0.7' fill='none'/>
<circle cx='57.4' cy='347.8' r='1.7' fill='#bb0523'/>
<circle cx='60.8' cy='348.3' r='1.7' fill='#bb0523'/>
<circle cx='63.2' cy='349.3' r='1.7' fill='#bb0523'/>
<circle cx='55.4' cy='349.8' r='1.7' fill='#bb0523'/>
<circle cx='58.8' cy='350.3' r='1.7' fill='#bb0523'/>
<circle cx='61.8' cy='350.8' r='1.7' fill='#bb0523'/>
<circle cx='56.4' cy='352.3' r='1.7' fill='#bb0523'/>
<circle cx='59.8' cy='352.7' r='1.7' fill='#bb0523'/>
<circle cx='59.3' cy='358.1' r='1.7' fill='#bb0523'/>
<rect x='73.75' y='352.95' width='3.5' height='3.5' fill='none' stroke='#2c62a0' stroke-width='1.1'/>
<rect x='76.15' y='353.45' width='3.5' height='3.5' fill='none' stroke='#2c62a0' stroke-width='1.1'/>
<rect x='71.75' y='355.85' width='3.5' height='3.5' fill='none' stroke='#2c62a0' stroke-width='1.1'/>
<rect x='69.85' y='357.85' width='3.5' height='3.5' fill='none' stroke='#2c62a0' stroke-width='1.1'/>
<rect x='74.25' y='358.35' width='3.5' height='3.5' fill='none' stroke='#2c62a0' stroke-width='1.1'/>
<rect x='78.15' y='359.85' width='3.5' height='3.5' fill='none' stroke='#2c62a0' stroke-width='1.1'/>
<rect x='72.75' y='360.35' width='3.5' height='3.5' fill='none' stroke='#2c62a0' stroke-width='1.1'/>
<rect x='73.75' y='373.05' width='3.5' height='3.5' fill='none' stroke='#2c62a0' stroke-width='1.1'/>
<circle cx='99.4' cy='348.6' r='1.7' fill='#bb0523'/>
<circle cx='102.8' cy='348.3' r='1.7' fill='#bb0523'/>
<circle cx='106.7' cy='348.6' r='1.7' fill='#bb0523'/>
<circle cx='101.3' cy='350.8' r='1.7' fill='#bb0523'/>
<circle cx='104.3' cy='350.8' r='1.7' fill='#bb0523'/>
<circle cx='100.4' cy='352.7' r='1.7' fill='#bb0523'/>
<circle cx='102.8' cy='360.6' r='1.7' fill='#bb0523'/>
<rect x='119.25' y='353.95' width='3.5' height='3.5' fill='none' stroke='#2c62a0' stroke-width='1.1'/>
<rect x='114.75' y='357.85' width='3.5' height='3.5' fill='none' stroke='#2c62a0' stroke-width='1.1'/>
<rect x='120.65' y='357.85' width='3.5' height='3.5' fill='none' stroke='#2c62a0' stroke-width='1.1'/>
<rect x='113.35' y='360.35' width='3.5' height='3.5' fill='none' stroke='#2c62a0' stroke-width='1.1'/>
<rect x='117.25' y='360.35' width='3.5' height='3.5' fill='none' stroke='#2c62a0' stroke-width='1.1'/>
<rect x='120.65' y='361.75' width='3.5' height='3.5' fill='none' stroke='#2c62a0' stroke-width='1.1'/>
<rect x='114.75' y='363.75' width='3.5' height='3.5' fill='none' stroke='#2c62a0' stroke-width='1.1'/>
<rect x='118.75' y='364.25' width='3.5' height='3.5' fill='none' stroke='#2c62a0' stroke-width='1.1'/>
<rect x='114.75' y='367.15' width='3.5' height='3.5' fill='none' stroke='#2c62a0' stroke-width='1.1'/>
<rect x='118.75' y='366.65' width='3.5' height='3.5' fill='none' stroke='#2c62a0' stroke-width='1.1'/>
<rect x='115.25' y='369.65' width='3.5' height='3.5' fill='none' stroke='#2c62a0' stroke-width='1.1'/>
<circle cx='146.3' cy='345.9' r='1.7' fill='#bb0523'/>
<circle cx='149.5' cy='347.5' r='1.7' fill='#bb0523'/>
<circle cx='142.4' cy='349.2' r='1.7' fill='#bb0523'/>
<circle cx='145.2' cy='348.6' r='1.7' fill='#bb0523'/>
<circle cx='146.8' cy='350.8' r='1.7' fill='#bb0523'/>
<circle cx='144.1' cy='352.4' r='1.7' fill='#bb0523'/>
<circle cx='147.3' cy='354.1' r='1.7' fill='#bb0523'/>
<circle cx='145.7' cy='355.2' r='1.7' fill='#bb0523'/>
<circle cx='147.9' cy='356.8' r='1.7' fill='#bb0523'/>
<circle cx='144.1' cy='358.4' r='1.7' fill='#bb0523'/>
<rect x='157.05' y='346.35' width='3.5' height='3.5' fill='none' stroke='#2c62a0' stroke-width='1.1'/>
<rect x='156.45' y='350.15' width='3.5' height='3.5' fill='none' stroke='#2c62a0' stroke-width='1.1'/>
<rect x='160.35' y='350.15' width='3.5' height='3.5' fill='none' stroke='#2c62a0' stroke-width='1.1'/>
<rect x='164.65' y='349.55' width='3.5' height='3.5' fill='none' stroke='#2c62a0' stroke-width='1.1'/>
<rect x='161.35' y='353.45' width='3.5' height='3.5' fill='none' stroke='#2c62a0' stroke-width='1.1'/>
<rect x='160.35' y='356.15' width='3.5' height='3.5' fill='none' stroke='#2c62a0' stroke-width='1.1'/>
<rect x='160.35' y='362.65' width='3.5' height='3.5' fill='none' stroke='#2c62a0' stroke-width='1.1'/>
<rect x='157.55' y='371.95' width='3.5' height='3.5' fill='none' stroke='#2c62a0' stroke-width='1.1'/>
<rect x='163.55' y='371.95' width='3.5' height='3.5' fill='none' stroke='#2c62a0' stroke-width='1.1'/>
<path d='M49 332.7V425.4H172' stroke='#333' stroke-width='1.3' fill='none'/>
<path d='M46 425.4H49' stroke='#333' stroke-width='1'/>
<text transform='translate(42.7 428.3) scale(0.92 1)' text-anchor='end' class='t'>0</text>
<path d='M46 407.4H49' stroke='#333' stroke-width='1'/>
<text transform='translate(42.7 410.3) scale(0.92 1)' text-anchor='end' class='t'>20</text>
<path d='M46 389.4H49' stroke='#333' stroke-width='1'/>
<text transform='translate(42.7 392.3) scale(0.92 1)' text-anchor='end' class='t'>40</text>
<path d='M46 371.4H49' stroke='#333' stroke-width='1'/>
<text transform='translate(42.7 374.3) scale(0.92 1)' text-anchor='end' class='t'>60</text>
<path d='M46 353.4H49' stroke='#333' stroke-width='1'/>
<text transform='translate(42.7 356.3) scale(0.92 1)' text-anchor='end' class='t'>80</text>
<path d='M46 335.4H49' stroke='#333' stroke-width='1'/>
<text transform='translate(42.7 338.3) scale(0.92 1)' text-anchor='end' class='t'>100</text>
<path d='M67.7 425.4V428.2' stroke='#333' stroke-width='0.9'/>
<text transform='translate(67.7 438.8) scale(0.92 1)' text-anchor='middle' class='t'>NMX</text>
<path d='M110.8 425.4V428.2' stroke='#333' stroke-width='0.9'/>
<text transform='translate(110.8 438.8) scale(0.92 1)' text-anchor='middle' class='t'>3D</text>
<path d='M154 425.4V428.2' stroke='#333' stroke-width='0.9'/>
<text transform='translate(154 438.8) scale(0.92 1)' text-anchor='middle' class='t'>21D</text>
<text transform='translate(23 379.4) rotate(-90) scale(0.7941 1)' text-anchor='middle' class='yl'>% Lymphocytes</text>
<path d='M68.6 340.4L70.9 337.4L73.2 340.4' stroke='#444' stroke-width='0.6' fill='none'/>
<path d='M109.8 340.4L112.1 337.4L114.4 340.4' stroke='#444' stroke-width='0.6' fill='none'/>
<path d='M151 340.4L153.3 337.4L155.6 340.4' stroke='#444' stroke-width='0.6' fill='none'/>
<text x='15.5' y='326.3' class='L'>G</text>
<circle cx='79.5' cy='448.3' r='1.6' fill='#8e1530'/>
<text transform='translate(83.8 451) scale(0.92 1)' class='t'>WT</text>
<rect x='101.8' y='446.8' width='3.8' height='2.8' fill='none' stroke='#36496a' stroke-width='1.1'/>
<text transform='translate(108.7 451) scale(0.92 1)' class='t'>Nbeal2 −/−</text>
<rect x="0" y="0" width="520" height="1" fill="#626262"/>
<rect x="0" y="458" width="520" height="1" fill="#454545"/>
<rect x="0" y="0" width="1" height="459" fill="#4a4a4a"/>
<rect x="519" y="0" width="1" height="459" fill="#3a3a3a"/>
</svg></div>
</body></html>
